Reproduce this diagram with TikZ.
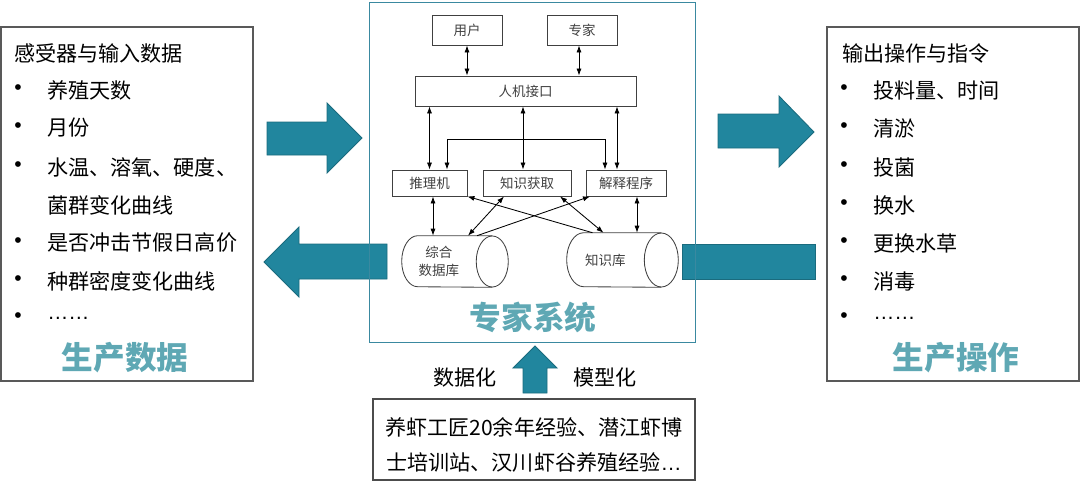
\documentclass[tikz,border=0pt]{standalone}
\usepackage{fontspec}
\setmainfont{Noto Sans CJK SC}
\newfontfamily\latinfont{Liberation Sans}
\usetikzlibrary{shapes.geometric,arrows.meta,positioning}
\definecolor{teal1}{HTML}{21869E}
\definecolor{teal2}{HTML}{1A6B7E}
\definecolor{title}{HTML}{5FA8B4}
\definecolor{frame}{HTML}{3A89A0}
\definecolor{inner}{HTML}{404040}

\begin{document}
\begin{tikzpicture}[x=0.025cm,y=-0.025cm,>={Latex[length=5pt,width=3.6pt]},
  bigarrow/.style={fill=teal1,draw=teal2,line width=0.6pt},
  listbox/.style={draw=black!65,line width=0.9pt,inner sep=0pt,minimum width=179.2pt,minimum height=251.8pt},
  box/.style={draw=black!75,line width=0.6pt,inner sep=0pt,minimum height=18.5pt,text=inner,font=\fontsize{9.6}{11}\selectfont},
  drum/.style={inner sep=0pt},
  drumline/.style={draw=black!75,line width=0.6pt},
  drumtext/.style={inner sep=0pt,text=inner,align=center,font=\fontsize{9.6}{13}\selectfont},
  item/.style={anchor=west,inner sep=0pt,font=\fontsize{15}{18}\selectfont},
  dot/.style={inner sep=0pt,font=\latinfont\fontsize{15}{18}\selectfont},
  bigtitle/.style={text=title,font=\fontsize{22.5}{26}\selectfont\bfseries},
  link/.style={<->,line width=0.6pt}]
\useasboundingbox (0,0) rectangle (1081,489);

% block arrows
\draw[bigarrow] (267,122) -- (327,122) -- (327,103) -- (362,138) -- (327,173) -- (327,155) -- (267,155) -- cycle;
\draw[bigarrow] (264,262) -- (299,227) -- (299,244) -- (387,244) -- (387,279) -- (299,279) -- (299,297) -- cycle;
\draw[bigarrow] (718,114) -- (779,114) -- (779,96) -- (814,132) -- (779,167) -- (779,148) -- (718,148) -- cycle;
\draw[bigarrow] (682,244) rectangle (815,279);
\draw[bigarrow] (535,346) -- (557,368) -- (547,368) -- (547,393) -- (523,393) -- (523,368) -- (513,368) -- cycle;

% side boxes
\node (inbox) at (127,204) [listbox] {};
\node (outbox) at (953,204) [listbox] {};
\node (sys) at (532.5,172) [draw=frame,line width=0.7pt,inner sep=0pt,minimum width=231.2pt,minimum height=241.8pt] {};

\node (t0) at (14,53) [item] {感受器与输入数据};
\foreach \t/\y [count=\i] in {养殖天数/90,月份/128,水温、溶氧、硬度、/167,菌群变化曲线/205,是否冲击节假日高价/243,种群密度变化曲线/281,{\latinfont ……}/318}
  \node (t\i) at (47,\y) [item] {\t};
\foreach \y [count=\i] in {90,128,167,243,281,318}
  \node (p\i) at (18,\y) [dot] {•};
\node (data) at (125,358) [bigtitle] {生产数据};

\node (o0) at (842,53) [item] {输出操作与指令};
\foreach \t/\y [count=\i] in {投料量、时间/90,清淤/128,投菌/167,换水/205,更换水草/243,消毒/281,{\latinfont ……}/318}
  \node (o\i) at (873,\y) [item] {\t};
\foreach \y [count=\i] in {90,128,167,205,243,281,318}
  \node (q\i) at (844,\y) [dot] {•};
\node (ops) at (956,358) [bigtitle] {生产操作};

% expert system
\node (user) at (467,30) [box,minimum width=49.8pt,minimum height=21.3pt] {用户};
\node (expert) at (582,30) [box,minimum width=49.8pt,minimum height=21.3pt] {专家};
\node (hmi) at (525.5,91) [box,minimum width=157.2pt,minimum height=21.3pt] {人机接口};
\node (inf) at (429.5,183) [box,minimum width=53.3pt] {推理机};
\node (acq) at (527,183) [box,minimum width=62.6pt] {知识获取};
\node (expl) at (626,183) [box,minimum width=56.9pt] {解释程序};

% drums
\node (db) at (455,261.5) [drum,minimum width=75.4pt,minimum height=36.3pt] {};
\draw[drumline] ([xshift=-11.4pt]db.north east) -- ([xshift=11.4pt]db.north west)
  arc[start angle=90,end angle=270,x radius=11.4pt,y radius=18.15pt] -- ([xshift=-11.4pt]db.south east);
\draw[drumline] ([xshift=-11.4pt]db.east) ellipse [x radius=11.4pt,y radius=18.15pt];
\node (dbt) at ([xshift=-11.4pt]db.center) [drumtext] {综合\\数据库};
\node (kb) at (622.5,260) [drum,minimum width=79pt,minimum height=38.4pt] {};
\draw[drumline] ([xshift=-12.1pt]kb.north east) -- ([xshift=12.1pt]kb.north west)
  arc[start angle=90,end angle=270,x radius=12.1pt,y radius=19.2pt] -- ([xshift=-12.1pt]kb.south east);
\draw[drumline] ([xshift=-12.1pt]kb.east) ellipse [x radius=12.1pt,y radius=19.2pt];
\node (kbt) at ([xshift=-12.1pt]kb.center) [drumtext] {知识库};
\node (es) at (533,317) [bigtitle] {专家系统};

\coordinate (e1) at ([shift={(-3,0)}]expert.south);
\coordinate (a1) at ([shift={(-4,0)}]acq.north);
\coordinate (x1) at ([shift={(-9,0)}]expl.north);
\coordinate (b1) at (447,139);
\coordinate (b2) at (605,139);
\coordinate (i2) at ([shift={(3.5,0)}]inf.south);
\coordinate (x2) at ([shift={(11,0)}]expl.south);

\draw[link] (user.south) -- (user.south |- hmi.north);
\draw[link] (e1) -- (e1 |- hmi.north);
\draw[link] (hmi.south -| inf.north) -- (inf.north);
\draw[link] (a1 |- hmi.south) -- (a1);
\draw[link] (x1 |- hmi.south) -- (x1);
\draw[link] (inf.north -| b1) -- (b1) -- (b2) -- (expl.north -| b2);
\draw[link] (i2) -- (i2 |- db.north);
\draw[link] (x2) -- (x2 |- kb.north);
\draw[link,->] ([shift={(-30,0)}]kb.north) -- (inf.south east);
\draw[link] ([shift={(-23,0)}]acq.south) -- ([shift={(13,0)}]db.north);
\draw[link] ([shift={(33,0)}]acq.south) -- ([shift={(-19,0)}]kb.north);
\draw[link,->] ([shift={(22,0)}]db.north) -- ([shift={(-36,0)}]expl.south);

% knowledge source
\node (src) at (534,439.5) [draw=black!70,line width=0.9pt,inner sep=0pt,minimum width=229pt,minimum height=57.6pt] {};
\node (s1) at (534,427) [font=\fontsize{15}{18}\selectfont,inner sep=0pt] {养虾工匠20余年经验、潜江虾博};
\node (s2) at (534,462) [font=\fontsize{15}{18}\selectfont,inner sep=0pt] {士培训站、汉川虾谷养殖经验{\latinfont …}};
\node (dz) at (465,377) [font=\fontsize{15}{18}\selectfont,inner sep=0pt] {数据化};
\node (mx) at (605,377) [font=\fontsize{15}{18}\selectfont,inner sep=0pt] {模型化};
\end{tikzpicture}
\end{document}
